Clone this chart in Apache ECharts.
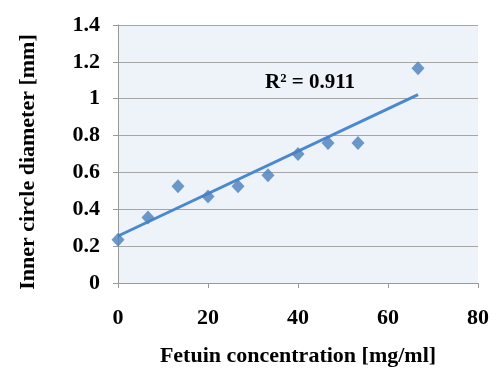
<!DOCTYPE html>
<html>
<head>
<meta charset="utf-8">
<script src="https://cdn.jsdelivr.net/npm/echarts@6/dist/echarts.min.js"></script>
<style>
  html, body { margin: 0; padding: 0; background: #fff; }
  #chart { width: 500px; height: 382px; }
</style>
</head>
<body>
<div id="chart"></div>
<script>
// Fetuin concentration [mg/ml] vs inner circle diameter [mm]
const concentration = [0, 6.67, 13.33, 20, 26.67, 33.33, 40, 46.67, 53.33, 66.67];
const diameter = [0.235, 0.355, 0.525, 0.47, 0.525, 0.585, 0.70, 0.76, 0.76, 1.165];
// linear trendline end points
const trendX = [0, 66.67];
const trendY = [0.255, 1.022];
const r2Label = "R² = 0.911";
const yTitle = "Inner circle diameter [mm]";
const xTitle = "Fetuin concentration [mg/ml]";

const font = "Liberation Serif";
const myChart = echarts.init(document.getElementById("chart"));

myChart.setOption({
  animation: false,
  textStyle: { fontFamily: font, fontWeight: "bold", color: "#000" },
  grid: {
    left: 118,
    right: 22,
    top: 25,
    bottom: 99,
    show: true,
    backgroundColor: "#EEF3F9",
    borderWidth: 0,
  },
  xAxis: {
    type: "value",
    min: 0,
    max: 80,
    interval: 20,
    name: xTitle,
    nameLocation: "middle",
    nameGap: 62,
    nameTextStyle: { fontFamily: font, fontWeight: "bold", fontSize: 22, color: "#000" },
    axisLine: { show: true, lineStyle: { color: "#999", width: 1 } },
    axisTick: { show: true, length: 5, lineStyle: { color: "#999" } },
    axisLabel: { fontFamily: font, fontWeight: "bold", fontSize: 22, color: "#000", margin: 24 },
    splitLine: { show: false },
  },
  yAxis: {
    type: "value",
    min: 0,
    max: 1.4,
    interval: 0.2,
    axisLine: { show: true, lineStyle: { color: "#999", width: 1 } },
    axisTick: { show: true, length: 5, lineStyle: { color: "#999" } },
    axisLabel: {
      fontFamily: font,
      fontWeight: "bold",
      fontSize: 22,
      color: "#000",
      margin: 18,
      formatter(val) {
        return String(Math.round(val * 10) / 10);
      },
    },
    splitLine: { show: true, lineStyle: { color: "#A6A6A6", width: 1 } },
  },
  series: [
    {
      name: "trend",
      type: "line",
      data: trendX.map((x, i) => [x, trendY[i]]),
      symbol: "none",
      lineStyle: { color: "#4A88CF", width: 3 },
      z: 2,
    },
    {
      name: "data",
      type: "scatter",
      data: concentration.map((x, i) => [x, diameter[i]]),
      symbol: "diamond",
      symbolSize: [13, 14],
      itemStyle: { color: "#4A7EBB" },
      z: 3,
    },
  ],
  graphic: [
    {
      type: "text",
      left: 265,
      top: 72,
      style: {
        text: r2Label,
        fontFamily: font,
        fontWeight: "bold",
        fontSize: 21,
        fill: "#000",
      },
    },
    {
      type: "text",
      x: 28,
      y: 162,
      rotation: Math.PI / 2,
      style: {
        text: yTitle,
        fontFamily: font,
        fontWeight: "bold",
        fontSize: 22,
        fill: "#000",
        align: "center",
        verticalAlign: "middle",
      },
    },
  ],
});
</script>
</body>
</html>
